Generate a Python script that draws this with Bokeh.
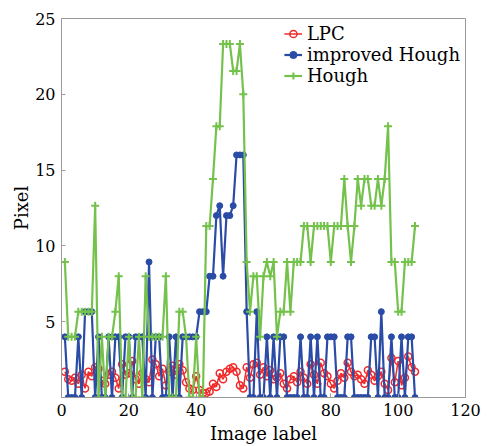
from bokeh.plotting import figure
from bokeh.embed import file_html
from bokeh.resources import INLINE
from bokeh.models import Range1d, FixedTicker

# ---- data ----
image_label = list(range(1, 106))

lpc = [1.7, 1.2, 1.1, 1.3, 0.9, 1.5, 0.6, 1.7, 1.4, 2.0,
       1.9, 1.1, 0.9, 1.5, 1.7, 1.3, 0.6, 2.2, 1.5, 1.6,
       2.4, 1.2, 0.9, 1.6, 1.2, 1.0, 2.5, 2.2, 1.4, 1.9,
       0.8, 1.7, 2.1, 1.5, 2.2, 1.8, 1.0, 0.6, 0.5, 1.4,
       0.5, 0.3, 0.3, 0.4, 0.9, 0.7, 1.6, 1.2, 1.7, 1.9,
       2.0, 1.7, 0.8, 0.6, 2.0, 1.3, 2.2, 2.3, 1.5, 2.0,
       1.4, 1.8, 1.2, 1.3, 1.6, 0.9, 0.6, 1.2, 1.4, 1.0,
       1.7, 1.3, 0.9, 2.2, 1.5, 0.9, 2.3, 1.6, 1.4, 0.9,
       0.6, 1.1, 1.6, 1.3, 2.3, 1.7, 1.4, 1.5, 1.2, 0.9,
       1.8, 1.5, 1.1, 1.4, 1.7, 0.9, 0.5, 2.6, 1.0, 2.4,
       0.8, 1.3, 2.7, 2.0, 1.7]

improved_hough = [4, 0, 0, 0, 4, 0, 5.66, 5.66, 5.66, 0,
                  4, 0, 0, 4, 0, 4, 4, 0, 4, 4,
                  0, 4, 4, 4, 0, 8.94, 0, 4, 4, 0,
                  0, 4, 0, 4, 0, 4, 4, 4, 4, 4,
                  5.66, 5.66, 5.66, 8, 8, 12, 12.65, 8, 12, 12,
                  12.65, 16, 16, 16, 5.66, 0, 0, 5.66, 0, 0,
                  4, 0, 4, 0, 4, 4, 0, 0, 0, 0,
                  4, 0, 0, 4, 0, 4, 0, 0, 4, 4,
                  4, 0, 0, 0, 4, 4, 0, 0, 0, 0,
                  0, 4, 4, 0, 5.66, 0, 0, 4, 0, 0,
                  4, 0, 4, 4, 0]

hough = [8.94, 4, 4, 4, 5.66, 5.66, 5.66, 5.66, 5.66, 12.65,
         0, 4, 0, 4, 4, 5.66, 8, 0, 0, 4,
         0, 0, 4, 0, 8, 4, 4, 4, 4, 4,
         8, 0, 0, 0, 5.66, 5.66, 4, 0, 0, 4,
         0, 0, 11.31, 11.31, 14.42, 17.89, 17.89, 23.32, 23.32, 23.32,
         21.54, 21.54, 23.32, 20, 8.94, 5.66, 8, 8, 4, 8,
         8.94, 8, 8.94, 4, 5.66, 5.66, 8.94, 5.66, 8.94, 8.94,
         8.94, 11.31, 11.31, 8.94, 11.31, 11.31, 11.31, 11.31, 11.31, 8.94,
         11.31, 11.31, 11.31, 14.42, 11.31, 8.94, 11.31, 14.42, 12.65, 14.42,
         14.42, 12.65, 12.65, 14.42, 12.65, 14.42, 17.89, 8.94, 8.94, 5.66,
         5.66, 8.94, 8.94, 8.94, 11.31]

x_ticks = [0, 20, 40, 60, 80, 100, 120]
y_ticks = [0, 5, 10, 15, 20, 25]

RED = "#f02a2a"
BLUE = "#2a4ba6"
GREEN = "#74c24c"
FONT = "DejaVu Serif"

p = figure(width=487, height=446, output_backend="svg", toolbar_location=None,
           x_range=Range1d(0, 120), y_range=Range1d(0, 25),
           min_border_left=61, min_border_right=22, min_border_top=18,
           min_border_bottom=49)

p.line(image_label, lpc, color=RED, line_width=1.5, legend_label="LPC")
p.scatter(image_label, lpc, marker="circle", size=7, fill_color=None,
          line_color=RED, line_width=1.5, legend_label="LPC")

p.line(image_label, improved_hough, color=BLUE, line_width=2.2, legend_label="improved Hough")
p.scatter(image_label, improved_hough, marker="circle", size=6, fill_color=BLUE,
          line_color=BLUE, legend_label="improved Hough")

p.line(image_label, hough, color=GREEN, line_width=2.2, legend_label="Hough")
p.scatter(image_label, hough, marker="cross", size=8, line_color=GREEN,
          line_width=2, legend_label="Hough")

p.grid.visible = False
p.outline_line_color = "#9a9a9a"
p.outline_line_width = 1

for ax in (p.xaxis[0], p.yaxis[0]):
    ax.axis_line_color = "#9a9a9a"
    ax.major_tick_line_color = "#9a9a9a"
    ax.major_tick_in = 4
    ax.major_tick_out = 0
    ax.minor_tick_line_color = None
    ax.major_label_text_font = FONT
    ax.major_label_text_font_size = "16px"
    ax.major_label_text_color = "black"
    ax.axis_label_text_font = FONT
    ax.axis_label_text_font_size = "18px"
    ax.axis_label_text_font_style = "normal"
    ax.axis_label_text_color = "black"

p.xaxis.ticker = FixedTicker(ticks=x_ticks)
p.yaxis.ticker = FixedTicker(ticks=y_ticks)
p.yaxis.major_label_overrides = {0: ""}
p.xaxis.axis_label = "Image label"
p.yaxis.axis_label = "Pixel"
p.xaxis.major_label_standoff = 6
p.yaxis.major_label_standoff = 6
p.xaxis.axis_label_standoff = 4
p.yaxis.axis_label_standoff = 0

lg = p.legend[0]
lg.location = "top_right"
lg.margin = 0
lg.padding = 5
lg.spacing = 0
lg.label_height = 21
lg.glyph_height = 21
lg.glyph_width = 18
lg.label_standoff = 5
lg.label_text_font = FONT
lg.label_text_font_size = "18px"
lg.label_text_color = "black"
lg.border_line_alpha = 0
lg.background_fill_alpha = 0

open("out.html", "w").write(file_html(p, INLINE))
